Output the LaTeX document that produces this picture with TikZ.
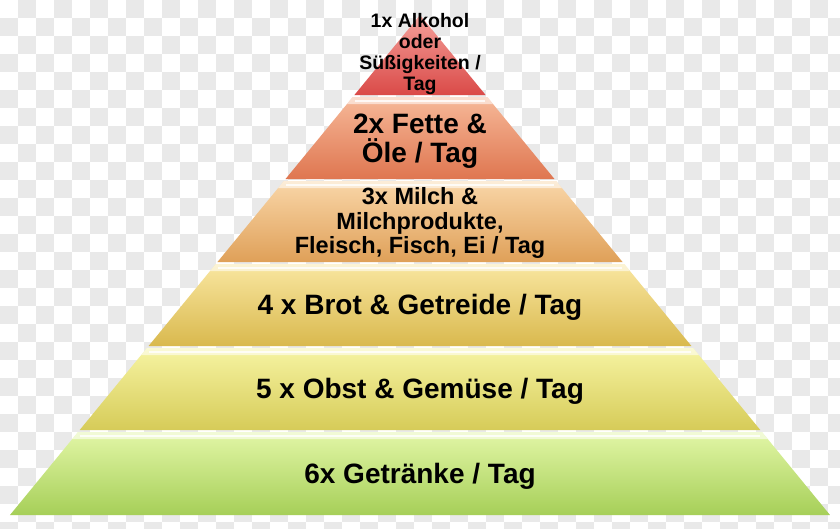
\documentclass[tikz,border=0pt]{standalone}
\usepackage{fontspec}
\setmainfont{Liberation Sans}
\usepackage{tikz}
\usetikzlibrary{positioning,calc}

\definecolor{checkgray}{HTML}{E9E9E9}
\definecolor{redtop}{HTML}{F4A09A}
\definecolor{redbot}{HTML}{DA4A48}
\definecolor{salmontop}{HTML}{F6B898}
\definecolor{salmonbot}{HTML}{DF7650}
\definecolor{orangetop}{HTML}{F9D6A8}
\definecolor{orangebot}{HTML}{DFA058}
\definecolor{goldtop}{HTML}{F9E6A0}
\definecolor{goldbot}{HTML}{D9B94E}
\definecolor{yellowtop}{HTML}{F6F4A2}
\definecolor{yellowbot}{HTML}{D6CB58}
\definecolor{greentop}{HTML}{E2F6A6}
\definecolor{greenbot}{HTML}{A6CF58}

\begin{document}
\begin{tikzpicture}[x=1pt,y=-1pt,
    lvltext/.style={font=\bfseries, align=center, text=black, inner sep=0pt},
    highlight/.style={white, opacity=.55}]
  \useasboundingbox (0,0) rectangle (840,528);
  % background checks
  \fill[white] (0,0) rectangle (840,528);
  \foreach \i in {0,...,46}
    \foreach \j in {0,...,29} {
      \pgfmathparse{int(mod(\i+\j,2))}
      \ifnum\pgfmathresult=1
        \fill[checkgray] (18*\i,18*\j) rectangle ++(18,18);
      \fi
    }
  % top triangle
  \shade[top color=redtop, bottom color=redbot]
    (420,15) -- (420+65.6,95) -- (420-65.6,95) -- cycle;
  % layers of the pyramid
  \foreach \ytop/\ybot/\ctop/\cbot in {97/179/salmontop/salmonbot,
      181/262/orangetop/orangebot, 264/346/goldtop/goldbot,
      348/430/yellowtop/yellowbot, 432/515/greentop/greenbot} {
    \pgfmathsetmacro{\wtop}{0.82*(\ytop-15)}
    \pgfmathsetmacro{\wbot}{0.82*(\ybot-15)}
    \pgfmathsetmacro{\whl}{0.82*(\ytop-15+7)-8}
    \shade[top color=\ctop, bottom color=\cbot]
      (420-\wtop,\ytop) -- (420+\wtop,\ytop) -- (420+\wbot,\ybot) -- (420-\wbot,\ybot) -- cycle;
    \fill[highlight] (420-\wtop,\ytop) -- (420+\wtop,\ytop) -- (420+\whl+8,\ytop+7)
      -- (420-\whl-8,\ytop+7) -- cycle;
    \draw[white, opacity=.8, line width=2pt] (420-\whl,\ytop+4) -- (420+\whl,\ytop+4);
  }
  % labels
  \node[lvltext, font=\fontsize{19.5}{21}\bfseries] (alkohol) at (420,54)
    {1x Alkohol\\oder\\Süßigkeiten /\\Tag};
  \node[lvltext, font=\fontsize{28}{29.5}\bfseries] (fette) at (420,141)
    {2x Fette \&\\Öle / Tag};
  \node[lvltext, font=\fontsize{23.5}{24.5}\bfseries] (milch) at (420,223)
    {3x Milch \&\\Milchprodukte,\\Fleisch, Fisch, Ei / Tag};
  \node[lvltext, font=\fontsize{28}{30}\bfseries] (brot) at (420,307)
    {4 x Brot \& Getreide / Tag};
  \node[lvltext, font=\fontsize{28}{30}\bfseries] (obst) at (420,391)
    {5 x Obst \& Gemüse / Tag};
  \node[lvltext, font=\fontsize{28}{30}\bfseries] (getraenke) at (420,476)
    {6x Getränke / Tag};
\end{tikzpicture}
\end{document}
